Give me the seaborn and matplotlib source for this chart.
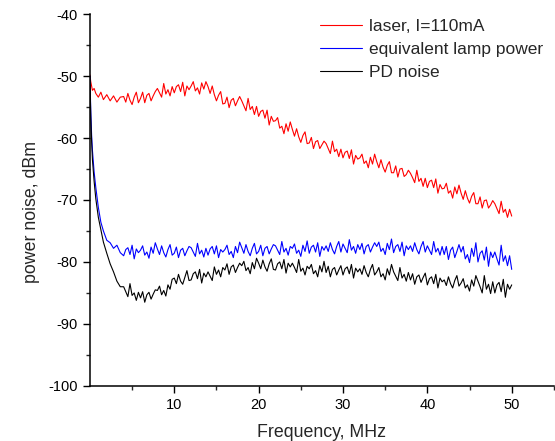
import numpy as np
import pandas as pd
import seaborn as sns
import matplotlib.pyplot as plt
from matplotlib.ticker import MultipleLocator, FixedLocator

# frequency grid of the sweep (MHz): fine at the start, then 0.25 MHz steps
freq_start = [0.0, 0.1, 0.2, 0.3, 0.5, 0.7, 1.0, 1.3, 1.6, 2.0, 2.4, 2.8, 3.2, 3.6]
freq = np.concatenate([freq_start, np.arange(4.0, 50.01, 0.25)])

laser = [
    -49.8, -50.9, -51.6, -52.3, -52.0, -52.8, -53.4, -52.6, -53.8, -53.0, -54.0, -53.2, -54.2, -53.4,
    -53.3, -54.2, -52.8, -53.9, -54.6, -53.4, -52.6, -54.3,
    -53.6, -52.6, -54.3, -53.1, -52.8, -54.0, -53.2, -52.5,
    -52.0, -52.7, -53.4, -51.2, -52.9, -52.2, -53.2, -51.7,
    -52.7, -51.7, -51.4, -52.5, -51.0, -53.2, -51.6, -52.2,
    -51.6, -50.9, -52.4, -51.9, -52.9, -51.1, -52.1, -50.9,
    -51.7, -52.8, -51.6, -53.0, -54.0, -53.1, -52.5, -54.5,
    -54.4, -53.4, -55.1, -53.9, -53.6, -54.8, -54.0, -53.3,
    -54.0, -54.8, -55.6, -53.6, -55.4, -54.9, -56.2, -54.9,
    -56.5, -55.7, -55.5, -56.8, -55.5, -57.9, -56.5, -57.3,
    -57.2, -56.7, -58.4, -58.1, -59.3, -57.7, -58.9, -57.4,
    -58.6, -59.7, -58.5, -59.8, -60.7, -59.6, -59.0, -60.9,
    -60.8, -59.9, -61.7, -60.6, -60.4, -61.7, -61.1, -60.5,
    -60.9, -61.7, -62.5, -60.5, -62.2, -61.8, -63.0, -61.8,
    -63.2, -62.3, -62.1, -63.3, -61.9, -64.2, -62.8, -63.4,
    -63.2, -62.6, -64.1, -63.7, -64.8, -63.1, -64.2, -62.6,
    -63.8, -64.8, -63.5, -64.7, -65.5, -64.4, -63.8, -65.6,
    -65.6, -64.5, -66.3, -65.0, -64.9, -66.2, -65.9, -65.2,
    -65.7, -66.4, -67.2, -65.2, -67.0, -66.5, -67.8, -66.5,
    -68.0, -67.0, -66.8, -68.0, -66.6, -68.9, -67.5, -68.2,
    -68.1, -67.3, -68.9, -68.5, -69.7, -67.9, -69.0, -67.6,
    -68.9, -69.9, -68.5, -69.7, -70.5, -69.4, -68.8, -70.6,
    -70.6, -69.5, -71.3, -70.1, -70.0, -71.3, -70.8, -70.1,
    -70.6, -71.4, -72.2, -70.2, -72.0, -71.5, -72.8, -71.5,
    -72.6,
]

lamp = [
    -50.0, -55.5, -59.5, -62.0, -65.5, -68.0, -71.2, -73.6, -75.0, -76.5, -76.9, -77.8, -77.3, -78.5,
    -79.0, -78.0, -77.7, -78.8, -77.3, -79.5, -77.9, -78.5,
    -78.1, -77.4, -78.9, -78.4, -79.4, -77.6, -78.6, -76.9,
    -77.9, -78.8, -77.4, -78.5, -79.2, -78.0, -77.2, -78.9,
    -78.6, -77.6, -79.3, -78.1, -77.8, -79.0, -78.2, -77.5,
    -77.7, -78.4, -79.1, -77.0, -78.7, -78.1, -79.2, -77.8,
    -78.9, -77.9, -77.5, -78.7, -77.4, -79.3, -78.0, -78.4,
    -78.0, -77.3, -78.8, -78.3, -79.3, -77.5, -78.5, -76.8,
    -77.7, -78.6, -77.2, -78.3, -79.0, -77.8, -77.0, -78.7,
    -78.3, -77.3, -79.0, -77.8, -77.5, -78.7, -77.9, -77.2,
    -77.4, -78.1, -78.8, -76.7, -78.4, -77.8, -78.9, -77.5,
    -77.8, -77.1, -78.6, -78.1, -79.1, -77.3, -78.3, -76.6,
    -78.6, -77.6, -77.3, -78.4, -76.9, -79.1, -77.5, -78.1,
    -77.4, -78.3, -76.9, -78.0, -78.7, -77.5, -76.7, -78.4,
    -77.1, -77.8, -78.5, -76.4, -78.1, -77.5, -78.6, -77.2,
    -78.0, -77.0, -78.7, -77.5, -77.2, -78.4, -77.6, -76.9,
    -77.5, -76.8, -78.3, -77.8, -78.8, -77.0, -78.0, -76.3,
    -78.5, -77.5, -77.2, -78.3, -76.8, -79.0, -77.4, -78.0,
    -77.4, -78.3, -76.9, -78.0, -78.7, -77.5, -76.7, -78.4,
    -77.4, -78.1, -78.8, -76.7, -78.4, -77.8, -78.9, -77.5,
    -78.8, -77.5, -79.6, -78.1, -77.6, -79.3, -78.3, -77.2,
    -78.4, -77.5, -79.5, -78.8, -80.1, -77.8, -79.1, -76.9,
    -80.0, -78.6, -78.2, -79.7, -77.6, -80.7, -78.4, -79.3,
    -78.4, -79.5, -80.5, -77.3, -79.9, -79.0, -80.6, -79.0,
    -81.2,
]

pd_noise = [
    -50.0, -56.5, -60.5, -63.5, -67.0, -69.8, -72.8, -74.8, -76.8, -78.6, -80.3, -81.6, -83.1, -84.0,
    -84.0, -84.8, -85.6, -83.5, -85.4, -85.0, -86.2, -84.9,
    -85.8, -84.8, -86.5, -85.3, -84.9, -86.0, -85.2, -84.5,
    -84.6, -83.9, -85.3, -84.6, -85.5, -83.7, -84.4, -82.8,
    -82.6, -83.5, -82.0, -83.1, -83.6, -82.5, -81.4, -83.0,
    -82.9, -81.9, -81.6, -82.7, -81.2, -83.4, -81.8, -82.4,
    -81.6, -82.3, -83.0, -80.8, -82.0, -81.3, -82.4, -80.9,
    -81.3, -80.3, -82.0, -80.8, -80.5, -81.7, -80.9, -80.2,
    -80.6, -79.9, -81.4, -80.9, -81.9, -80.1, -81.1, -79.4,
    -80.2, -81.1, -79.7, -80.8, -81.5, -80.3, -79.5, -81.2,
    -81.3, -80.3, -80.0, -81.1, -79.6, -81.8, -80.2, -80.8,
    -80.2, -80.9, -81.7, -79.6, -81.5, -81.0, -82.1, -80.7,
    -81.1, -80.4, -81.9, -81.4, -82.4, -80.6, -81.6, -79.9,
    -81.7, -80.7, -82.4, -81.2, -80.9, -82.1, -81.3, -80.6,
    -82.1, -81.1, -80.8, -81.9, -80.4, -82.6, -81.0, -81.6,
    -81.1, -82.0, -80.6, -81.7, -82.4, -81.2, -80.4, -82.1,
    -81.6, -80.9, -82.4, -81.9, -82.9, -81.1, -82.1, -80.4,
    -81.6, -82.3, -83.0, -80.9, -82.6, -82.0, -83.1, -81.7,
    -82.9, -81.9, -83.6, -82.4, -82.1, -83.3, -82.5, -81.8,
    -83.7, -82.7, -82.4, -83.5, -82.0, -84.2, -82.6, -83.2,
    -82.9, -83.8, -82.4, -83.5, -84.2, -83.0, -82.2, -83.9,
    -83.4, -82.7, -84.2, -83.7, -84.7, -82.9, -83.9, -82.2,
    -83.1, -84.0, -85.0, -82.2, -84.4, -83.6, -85.1, -83.2,
    -85.0, -83.7, -83.3, -84.8, -82.8, -85.7, -83.6, -84.4,
    -83.7,
]

labels = ['laser, I=110mA', 'equivalent lamp power', 'PD noise']
colors = ['#ff0000', '#0000ff', '#000000']

df = pd.concat([
    pd.DataFrame({'freq': freq, 'noise': laser, 'trace': labels[0]}),
    pd.DataFrame({'freq': freq, 'noise': lamp, 'trace': labels[1]}),
    pd.DataFrame({'freq': freq, 'noise': pd_noise, 'trace': labels[2]}),
])

sns.set_style('ticks')
plt.rcParams['font.family'] = ['Liberation Sans', 'DejaVu Sans']
plt.rcParams['axes.unicode_minus'] = False

fig = plt.figure(figsize=(5.55, 4.41), dpi=100)
ax = fig.add_axes([0.162, 0.125, 0.836, 0.843])

sns.lineplot(data=df, x='freq', y='noise', hue='trace', hue_order=labels,
             palette=dict(zip(labels, colors)), estimator=None, linewidth=0.8, ax=ax)

ax.set_xlim(0, 55)
ax.set_ylim(-100, -40)
ax.xaxis.set_major_locator(FixedLocator([10, 20, 30, 40, 50]))
ax.xaxis.set_minor_locator(FixedLocator([5, 15, 25, 35, 45, 55]))
ax.yaxis.set_major_locator(MultipleLocator(10))
ax.yaxis.set_minor_locator(MultipleLocator(5))
ax.tick_params(which='major', direction='out', length=5, width=1, labelsize=10.5, colors='black')
ax.tick_params(which='minor', direction='out', length=3, width=1)
sns.despine(ax=ax)
for s in ['left', 'bottom']:
    ax.spines[s].set_linewidth(1.1)
    ax.spines[s].set_color('black')

ax.set_xlabel('Frequency, MHz', fontsize=12.8, labelpad=9)
ax.set_ylabel('power noise, dBm', fontsize=12.8)
ax.yaxis.set_label_coords(-0.108, 0.468)

handles, labs = ax.get_legend_handles_labels()
ax.legend(handles, labs, loc='upper right', frameon=False, fontsize=12.5,
          handlelength=2.4, labelspacing=0.45, handletextpad=0.4,
          bbox_to_anchor=(1.01, 1.03))

fig.savefig('out.png', dpi=100)
